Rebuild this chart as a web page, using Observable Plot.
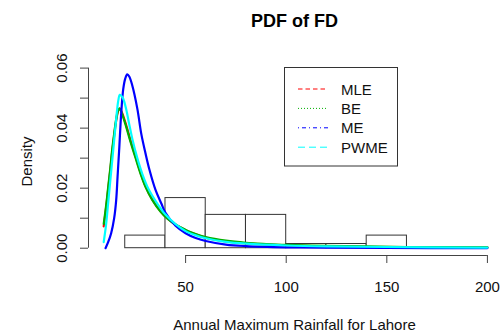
<!DOCTYPE html>
<html>
<head>
<meta charset="utf-8">
<script src="https://cdn.jsdelivr.net/npm/d3@7"></script>
<script src="https://cdn.jsdelivr.net/npm/@observablehq/plot@0.6"></script>
<style>
  body { margin: 0; background: #fff; }
  #wrap { position: relative; width: 500px; height: 331px; font-family: "Liberation Sans", Arial, sans-serif; }
  #legend { position: absolute; left: 284px; top: 67px; }
</style>
</head>
<body>
<div id="wrap"></div>
<script>
// ---- Data ----
const title = "PDF of FD";
const xLabel = "Annual Maximum Rainfall for Lahore";
const yLabel = "Density";

// histogram bins (rainfall) and densities
const binStart = [20, 40, 60, 80, 100, 120, 140];
const binEnd   = [40, 60, 80, 100, 120, 140, 160];
const binDensity = [0.0042, 0.0167, 0.0111, 0.0111, 0.0014, 0.0014, 0.0042];

// fitted PDF curves
const mleX = [9.3, 10.5, 11.5, 12.5, 13.5, 14.5, 15.5, 16.5, 17.2, 18, 20, 22.6, 25, 27.5, 30, 33.5, 37.5, 41, 45, 50, 55, 60, 70, 80, 90, 100, 120, 140, 160, 200];
const mleY = [0.0073, 0.0135, 0.0195, 0.0255, 0.0320, 0.0375, 0.0425, 0.0458, 0.0466, 0.0458, 0.0420, 0.0360, 0.0308, 0.0254, 0.0208, 0.0162, 0.0124, 0.0099, 0.0079, 0.0060, 0.0046, 0.0035, 0.0023, 0.0016, 0.0012, 0.0009, 0.0006, 0.0004, 0.0003, 0.0002];

const beX = [9.3, 10.5, 11.5, 12.5, 13.5, 14.5, 15.5, 16.5, 17.2, 18, 20, 22.6, 25, 27.5, 30, 33.5, 37.5, 41, 45, 50, 55, 60, 70, 80, 90, 100, 120, 140, 160, 200];
const beY = [0.0081, 0.0142, 0.0202, 0.0262, 0.0328, 0.0382, 0.0430, 0.0460, 0.0465, 0.0455, 0.0415, 0.0355, 0.0303, 0.0250, 0.0205, 0.0160, 0.0122, 0.0098, 0.0078, 0.0061, 0.0047, 0.0037, 0.0025, 0.0018, 0.0014, 0.0011, 0.0008, 0.0006, 0.0004, 0.0003];

const meX = [10.2, 11.5, 13, 14.5, 15.5, 16.2, 17, 18, 19, 20, 21, 22, 23.5, 26, 28, 30, 32, 35, 38, 40, 45, 50, 55, 60, 70, 80, 100, 120, 150, 200];
const meY = [0.0000, 0.0020, 0.0050, 0.0100, 0.0160, 0.0240, 0.0330, 0.0450, 0.0530, 0.0565, 0.0579, 0.0572, 0.0542, 0.0465, 0.0380, 0.0318, 0.0262, 0.0195, 0.0148, 0.0118, 0.0075, 0.0050, 0.0034, 0.0024, 0.0012, 0.0007, 0.0003, 0.00015, 0.00007, 0.00003];

const pwmeX = [9.3, 10.5, 11.5, 12.5, 13.5, 14.5, 15.5, 16.5, 17.3, 18, 19, 20.5, 22, 23.5, 26, 28.5, 31.5, 36, 40, 45, 50, 55, 60, 70, 80, 100, 120, 150, 200];
const pwmeY = [0.0020, 0.0080, 0.0150, 0.0220, 0.0290, 0.0360, 0.0430, 0.0490, 0.0511, 0.0508, 0.0498, 0.0462, 0.0412, 0.0365, 0.0300, 0.0247, 0.0198, 0.0148, 0.0112, 0.0080, 0.0057, 0.0043, 0.0033, 0.0021, 0.0015, 0.0009, 0.0006, 0.0004, 0.0002];

// axes
const xTicks = [50, 100, 150, 200];
const yTicks = [0, 0.01, 0.02, 0.03, 0.04, 0.05, 0.06];
const yTickLabels = [0, 0.02, 0.04, 0.06];
const xDomain = [1.74, 206.5];
const yDomain = [-0.00243, 0.0602];

// legend
const seriesNames = ["MLE", "BE", "ME", "PWME"];
const seriesColors = ["#ff0000", "#00b000", "#0000ff", "#00ffff"];
const seriesDash = ["4.5,3", "1,2", "1,3,4,3", "7,4"];

// ---- Build ----
const bins = binStart.map((s, i) => ({x1: s, x2: binEnd[i], y: binDensity[i]}));
const mk = (xs, ys) => xs.map((x, i) => ({x, y: ys[i]}));
const curves = [mk(mleX, mleY), mk(beX, beY), mk(meX, meY), mk(pwmeX, pwmeY)];
const axisColor = "#444";

const chart = Plot.plot({
  width: 500,
  height: 331,
  marginLeft: 88,
  marginRight: 0,
  marginTop: 67,
  marginBottom: 76,
  style: {fontFamily: '"Liberation Sans", Arial, sans-serif', fontSize: "15px", background: "white", color: "#000"},
  x: {domain: xDomain, axis: null},
  y: {domain: yDomain, axis: null},
  marks: [
    Plot.rectY(bins, {x1: "x1", x2: "x2", y1: 0, y2: "y", fill: "white", stroke: "#333", strokeWidth: 1}),
    ...curves.map((c, i) => Plot.line(c, {x: "x", y: "y", stroke: seriesColors[i], strokeWidth: 2.2, curve: "catmull-rom"})),
    // x axis
    Plot.ruleY([yDomain[0]], {x1: xTicks[0], x2: xTicks[xTicks.length - 1], stroke: axisColor}),
    Plot.axisX(xTicks, {tickSize: 8, tickPadding: 18, fontSize: 15, label: null, stroke: axisColor, fill: "#111", anchor: "bottom"}),
    // y axis
    Plot.ruleX([xDomain[0]], {y1: yTicks[0], y2: yTicks[yTicks.length - 1], stroke: axisColor}),
    Plot.axisY(yTicks, {tickSize: 8, tickFormat: () => "", label: null, stroke: axisColor, anchor: "left"}),
    Plot.text(yTickLabels, {y: d => d, text: d => d.toFixed(2), frameAnchor: "left", dx: -21.5, rotate: -90, lineAnchor: "bottom", textAnchor: "middle", fontSize: 15, fill: "#111"}),
    // labels
    Plot.text([title], {frameAnchor: "top", dy: -40.3, lineAnchor: "bottom", fontSize: 18, fontWeight: "bold", fill: "#000"}),
    Plot.text([xLabel], {frameAnchor: "bottom", dy: 74, lineAnchor: "bottom", fontSize: 15, fill: "#111"}),
    Plot.text([yLabel], {frameAnchor: "left", dx: -57, rotate: -90, lineAnchor: "bottom", textAnchor: "middle", fontSize: 15, fill: "#111"})
  ]
});
const wrap = document.getElementById("wrap");
wrap.appendChild(chart);

// legend overlay
const lw = 113, lh = 98.5;
const ns = "http://www.w3.org/2000/svg";
const leg = document.createElementNS(ns, "svg");
leg.setAttribute("id", "legend");
leg.setAttribute("width", lw + 1);
leg.setAttribute("height", lh + 1);
const box = document.createElementNS(ns, "rect");
box.setAttribute("x", 0.5); box.setAttribute("y", 0.5);
box.setAttribute("width", lw); box.setAttribute("height", lh);
box.setAttribute("fill", "white"); box.setAttribute("stroke", "#333");
leg.appendChild(box);
seriesNames.forEach((name, i) => {
  const cy = 22 + i * 19.4;
  const ln = document.createElementNS(ns, "line");
  ln.setAttribute("x1", 14); ln.setAttribute("x2", 44);
  ln.setAttribute("y1", cy); ln.setAttribute("y2", cy);
  ln.setAttribute("stroke", seriesColors[i]);
  ln.setAttribute("stroke-width", 1);
  ln.setAttribute("stroke-dasharray", seriesDash[i]);
  leg.appendChild(ln);
  const t = document.createElementNS(ns, "text");
  t.setAttribute("x", 57); t.setAttribute("y", cy + 5.5);
  t.setAttribute("font-size", "15px");
  t.setAttribute("font-family", '"Liberation Sans", Arial, sans-serif');
  t.setAttribute("fill", "#111");
  t.textContent = name;
  leg.appendChild(t);
});
wrap.appendChild(leg);
</script>
</body>
</html>
